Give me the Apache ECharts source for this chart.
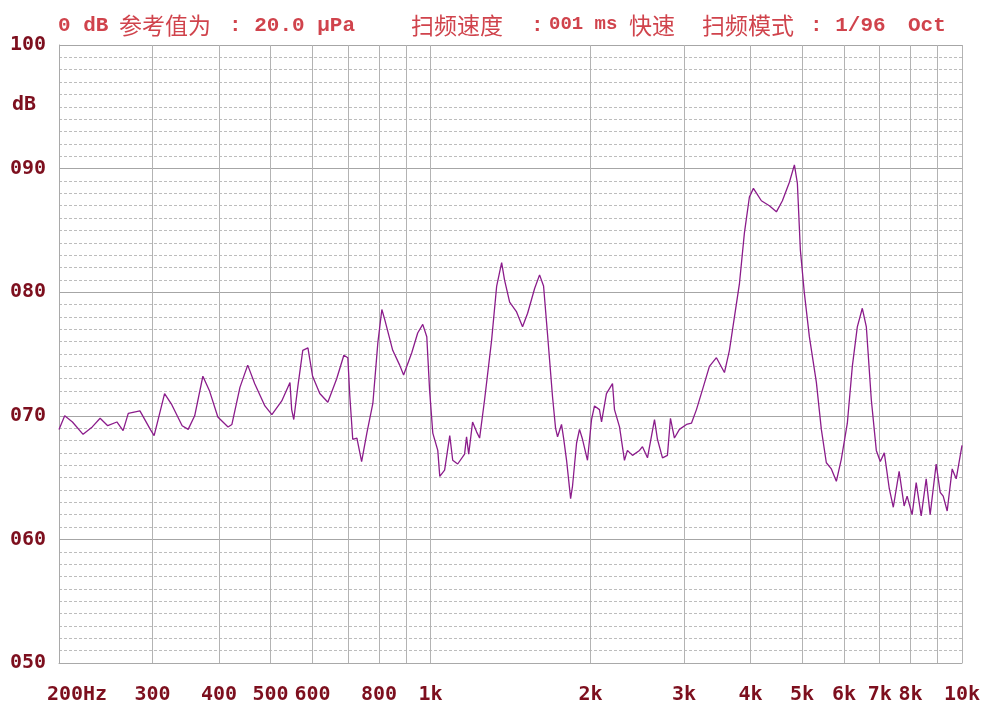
<!DOCTYPE html>
<html>
<head>
<meta charset="utf-8">
<title>扫频曲线</title>
<script src="https://cdn.jsdelivr.net/npm/echarts@6/dist/echarts.min.js"></script>
<style>
  html, body { margin: 0; padding: 0; background: #fff; }
  #chart { width: 984px; height: 711px; }
</style>
</head>
<body>
<div id="chart"></div>
<script>
// frequency (Hz) and level (dB)
var freqs = [
    200, 205, 212, 222, 231, 239, 247, 257, 264, 270,
    284, 297, 302, 316, 326, 341, 350, 360, 373, 384,
    398, 416, 423, 438, 453, 467, 488, 503, 525, 544,
    548, 553, 563, 575, 588, 600, 619, 641, 666, 687,
    699, 705, 714, 727, 742, 759, 779, 796, 810, 820,
    849, 875, 890, 922, 946, 967, 984, 996, 1010, 1032,
    1041, 1063, 1087, 1101, 1125, 1159, 1169, 1180, 1200, 1221,
    1237, 1264, 1303, 1332, 1361, 1378, 1409, 1452, 1490, 1523,
    1570, 1604, 1632, 1661, 1697, 1719, 1734, 1764, 1780, 1803,
    1835, 1850, 1883, 1907, 1932, 1974, 2009, 2035, 2079, 2098,
    2143, 2200, 2219, 2268, 2317, 2347, 2399, 2473, 2505, 2560,
    2639, 2673, 2732, 2791, 2828, 2877, 2940, 3031, 3097, 3165,
    3248, 3348, 3451, 3573, 3651, 3813, 3896, 3981, 4051, 4193,
    4341, 4475, 4593, 4734, 4838, 4901, 4965, 5052, 5162, 5321,
    5437, 5556, 5678, 5802, 5929, 6085, 6218, 6354, 6493, 6607,
    6751, 6899, 7019, 7142, 7298, 7426, 7616, 7783, 7884, 8057,
    8200, 8380, 8563, 8712, 8941, 9098, 9218, 9378, 9584, 9752,
    10000
];
var levels = [
    68.9, 70.0, 69.5, 68.5, 69.1, 69.8, 69.2, 69.5, 68.8, 70.2,
    70.4, 68.9, 68.4, 71.8, 70.9, 69.2, 68.9, 70.0, 73.2, 72.0,
    69.9, 69.1, 69.3, 72.3, 74.1, 72.6, 70.8, 70.1, 71.2, 72.7,
    70.5, 69.7, 72.4, 75.3, 75.5, 73.2, 71.8, 71.1, 73.0, 74.9,
    74.7, 71.6, 68.1, 68.2, 66.3, 68.6, 71.0, 75.9, 78.6, 77.8,
    75.3, 74.1, 73.3, 75.1, 76.7, 77.4, 76.4, 72.1, 68.6, 67.2,
    65.1, 65.6, 68.4, 66.4, 66.1, 66.9, 68.3, 66.9, 69.5, 68.7,
    68.2, 71.3, 76.1, 80.5, 82.4, 81.0, 79.2, 78.4, 77.2, 78.3,
    80.3, 81.4, 80.5, 76.5, 71.5, 69.0, 68.3, 69.3, 68.2, 66.4,
    63.3, 64.3, 67.8, 68.9, 68.1, 66.4, 69.7, 70.8, 70.5, 69.5,
    71.8, 72.6, 70.5, 69.1, 66.4, 67.2, 66.8, 67.2, 67.5, 66.6,
    69.7, 68.1, 66.6, 66.8, 69.8, 68.2, 68.9, 69.3, 69.4, 70.5,
    72.1, 74.0, 74.7, 73.5, 75.3, 80.7, 84.8, 87.7, 88.4, 87.4,
    87.0, 86.5, 87.4, 88.9, 90.3, 88.8, 83.4, 79.9, 76.4, 72.7,
    68.9, 66.2, 65.7, 64.7, 66.5, 69.4, 74.0, 77.2, 78.7, 77.2,
    71.3, 67.2, 66.3, 67.0, 64.1, 62.6, 65.5, 62.7, 63.5, 62.0,
    64.6, 61.9, 64.9, 62.0, 66.1, 63.8, 63.5, 62.3, 65.7, 64.9,
    67.6
];

// grid lines and tick labels of the frequency axis
var gridFreqs = [200, 300, 400, 500, 600, 700, 800, 900, 1000,
    2000, 3000, 4000, 5000, 6000, 7000, 8000, 9000, 10000];
var labelFreqs = [200, 300, 400, 500, 600, 800, 1000, 2000, 3000, 4000, 5000, 6000, 7000, 8000, 10000];
var labelTexts = ['200Hz', '300', '400', '500', '600', '800', '1k', '2k', '3k', '4k', '5k', '6k', '7k', '8k', '10k'];

var labelFont = 'DejaVu Sans Mono';
var labelColor = '#7d0f1e';
var titleColor = '#d0434c';

function lg(f) { return Math.log10(f); }

function freqLabel(v) {
    for (var i = 0; i < labelFreqs.length; i++) {
        if (Math.abs(lg(labelFreqs[i]) - v) < 1e-6) {
            return i === 0 ? '{first|' + labelTexts[i] + '}' : labelTexts[i];
        }
    }
    return '';
}

var myChart = echarts.init(document.getElementById('chart'));

// header pieces, placed one by one like the instrument screen
var titleParts = [
    { text: '0 dB', x: 58, cjk: false, size: 21 },
    { text: '参考值为', x: 119, cjk: true, size: 23 },
    { text: ': 20.0 μPa', x: 229, cjk: false, size: 21 },
    { text: '扫频速度', x: 411, cjk: true, size: 23 },
    { text: ':', x: 531, cjk: false, size: 21 },
    { text: '001 ms', x: 549, cjk: false, size: 19 },
    { text: '快速', x: 629, cjk: true, size: 23 },
    { text: '扫频模式', x: 702, cjk: true, size: 23 },
    { text: ': 1/96', x: 810, cjk: false, size: 21 },
    { text: 'Oct', x: 908, cjk: false, size: 21 }
];

var graphics = titleParts.map(function (p) {
    return {
        type: 'text',
        left: p.x,
        top: p.cjk ? 14 : 15,
        silent: true,
        style: {
            text: p.text,
            fill: titleColor,
            font: p.cjk
                ? p.size + 'px "Noto Sans CJK SC"'
                : 'bold ' + p.size + 'px "Liberation Mono", "Noto Sans CJK SC"'
        }
    };
});
graphics.push({
    type: 'text',
    left: 12,
    top: 95,
    silent: true,
    style: {
        text: 'dB',
        fill: labelColor,
        font: 'bold 20px "' + labelFont + '"'
    }
});

var option = {
    animation: false,
    backgroundColor: '#fff',
    graphic: graphics,
    grid: {
        left: 59,
        right: 22,
        top: 45,
        bottom: 48
    },
    xAxis: {
        type: 'value',
        min: lg(200),
        max: lg(10000),
        axisLine: {
            show: true,
            lineStyle: { color: '#a9a9a9', width: 1 }
        },
        axisTick: {
            show: false,
            customValues: gridFreqs.map(lg)
        },
        axisLabel: {
            customValues: labelFreqs.map(lg),
            formatter: freqLabel,
            margin: 22,
            fontFamily: labelFont,
            fontWeight: 'bold',
            fontSize: 20,
            color: labelColor,
            rich: {
                first: {
                    padding: [0, 0, 0, 36],
                    fontFamily: labelFont,
                    fontWeight: 'bold',
                    fontSize: 20,
                    color: labelColor
                }
            }
        },
        splitLine: {
            show: true,
            lineStyle: { color: '#b3b3b3', width: 1 }
        }
    },
    yAxis: {
        type: 'value',
        min: 50,
        max: 100,
        interval: 10,
        axisLine: {
            show: true,
            lineStyle: { color: '#a9a9a9', width: 1 }
        },
        axisTick: { show: false },
        minorTick: { show: false, splitNumber: 10 },
        axisLabel: {
            margin: 13,
            fontFamily: labelFont,
            fontWeight: 'bold',
            fontSize: 20,
            color: labelColor,
            formatter: function (v) {
                return ('00' + v).slice(-3);
            }
        },
        splitLine: {
            show: true,
            lineStyle: { color: '#a6a6a6', width: 1.2 }
        },
        minorSplitLine: {
            show: true,
            lineStyle: { color: '#bdbdbd', width: 1, type: [3, 2] }
        }
    },
    series: [{
        type: 'line',
        data: freqs.map(function (f, i) { return [lg(f), levels[i]]; }),
        showSymbol: false,
        symbol: 'none',
        lineStyle: {
            color: '#8b1c8b',
            width: 1.3
        },
        z: 5
    }]
};
myChart.setOption(option);
</script>
</body>
</html>
